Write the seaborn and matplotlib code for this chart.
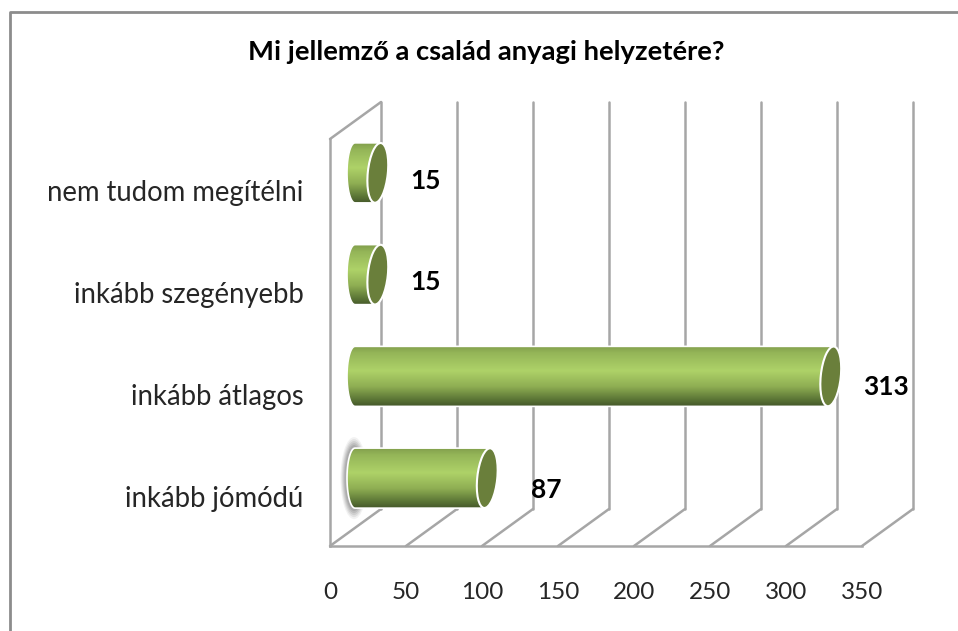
import matplotlib
matplotlib.use('Agg')
import matplotlib.pyplot as plt
from matplotlib.colors import LinearSegmentedColormap
from matplotlib.lines import Line2D
from matplotlib.patches import Ellipse, PathPatch
from matplotlib.path import Path
from matplotlib.transforms import Affine2D, IdentityTransform
import numpy as np
import pandas as pd
import seaborn as sns

categories = ['nem tudom megítélni', 'inkább szegényebb', 'inkább átlagos', 'inkább jómódú']
values = [15, 15, 313, 87]
ticks = [0, 50, 100, 150, 200, 250, 300, 350]
title = 'Mi jellemző a család anyagi helyzetére?'

W, H = 958, 631
DEPTH_X, DEPTH_Y = 51, 37  # wall depth in px
WALL_H = 407
grid_color = '#a6a6a6'
px = IdentityTransform()

sns.set_theme(style='white')
plt.rcParams['font.family'] = ['Lato', 'DejaVu Sans']

df = pd.DataFrame({'category': categories, 'value': values})

fig = plt.figure(figsize=(W / 100, H / 100), dpi=100, facecolor='white')
ax = fig.add_axes([330 / W, 1 - 546 / H, 532 / W, WALL_H / H])
sns.barplot(data=df, y='category', x='value', ax=ax, width=0.59, color='#9bbb59', zorder=3, clip_on=False)
ax.set_xlim(0, 350)
ax.set_ylim(3.5, -0.5)
ax.set_xticks(ticks)
ax.set_xlabel('')
ax.set_ylabel('')
ax.patch.set_alpha(0)
sns.despine(ax=ax, top=True, right=True)
for s in ['left', 'bottom']:
    ax.spines[s].set_color(grid_color)
    ax.spines[s].set_linewidth(1.8)
ax.tick_params(axis='both', length=0)
ax.tick_params(axis='x', labelsize=17.5, pad=26, labelcolor='#262626')
ax.tick_params(axis='y', labelsize=19.8, pad=19, labelcolor='#262626')
# category labels sit a little lower than the band centres
for lab in ax.get_yticklabels():
    lab.set_transform(lab.get_transform() + Affine2D().translate(0, -1))


def wall_line(xs, ys, z=1):
    ax.add_artist(Line2D(xs, ys, transform=px, color=grid_color, lw=1.8, zorder=z, clip_on=False))


# floor lines and back wall, positions come from the x scale
for t in ticks:
    x0, y0 = ax.transData.transform((t, 3.5))
    wall_line([x0, x0 + DEPTH_X], [y0, y0 + DEPTH_Y])
    wall_line([x0 + DEPTH_X] * 2, [y0 + DEPTH_Y, y0 + DEPTH_Y + WALL_H])
x0, y0 = ax.transData.transform((0, -0.5))
wall_line([x0, x0 + DEPTH_X], [y0, y0 + DEPTH_Y])

# turn the seaborn bars into cylinders
cmap = LinearSegmentedColormap.from_list('cyl', [(0, '#7f9c4a'), (0.12, '#94b558'), (0.42, '#aed268'),
                                                 (0.68, '#8fae53'), (0.88, '#5f7a38'), (1, '#46592a')])
grad = np.linspace(0, 1, 120).reshape(-1, 1)
BAR_DX, BAR_DY = 25, 17
CAP_W = 20
LEFT_R = 8
TILT = -6
label_dx = [32, 32, 32, 44]
label_dy = [-8, -7, -11, -12]
theta = np.linspace(np.pi / 2, 3 * np.pi / 2, 30)
for i, (bar, v) in enumerate(zip(ax.patches, values)):
    bar.set_visible(False)
    yc = bar.get_y() + bar.get_height() / 2
    xl, ym = ax.transData.transform((0, yc))
    xr, _ = ax.transData.transform((v, yc))
    xl, xr, ym = xl + BAR_DX, xr + BAR_DX, ym + BAR_DY
    _, top = ax.transData.transform((0, bar.get_y()))
    _, bot = ax.transData.transform((0, bar.get_y() + bar.get_height()))
    hh = abs(top - bot) / 2

    if categories[i] == 'inkább jómódú':
        # soft grey glow on the left end
        for grow, a in zip([11, 9, 7, 5, 3], [0.1, 0.14, 0.18, 0.22, 0.28]):
            ax.add_artist(Ellipse((xl - 1, ym), 2 * LEFT_R + grow, 2 * hh + 2 * grow, transform=px, fc='#808080',
                                  ec='none', alpha=a, zorder=2, clip_on=False))

    verts = np.column_stack([xl + LEFT_R * np.cos(theta), ym + hh * np.sin(theta)])
    verts = np.vstack([[xr, ym + hh], verts, [xr, ym - hh], [xr, ym + hh]])
    body = PathPatch(Path(verts), transform=px, fc='none', ec='white', lw=1.2, zorder=3.3, clip_on=False)
    ax.add_artist(body)
    im = ax.imshow(grad, cmap=cmap, aspect='auto', extent=(xl - LEFT_R, xr, ym - hh, ym + hh), transform=px,
                   zorder=3.2)
    im.set_clip_path(body)
    ax.add_artist(Ellipse((xr, ym), CAP_W, 2 * hh, angle=TILT, transform=px, fc='#6a7f3b', ec='white', lw=1.5,
                          zorder=3.4, clip_on=False))
    ax.annotate(str(v), (xr, ym), xycoords=px, xytext=(label_dx[i], label_dy[i]), textcoords='offset pixels',
                fontsize=19, fontweight='bold', color='black', va='center', ha='left', annotation_clip=False,
                zorder=5)

ax.set_xlim(0, 350)
ax.set_ylim(3.5, -0.5)
fig.text(486 / W, 1 - 52 / H, title, fontsize=19.7, fontweight='bold', ha='center', va='center', color='black')

# outer chart frame, only top and left show in the crop
fig.add_artist(Line2D([9.5 / W, 9.5 / W, 1], [0, 1 - 12 / H, 1 - 12 / H], transform=fig.transFigure,
                      color='#8c8c8c', lw=2))

fig.savefig('out.png', dpi=100, facecolor='white')
